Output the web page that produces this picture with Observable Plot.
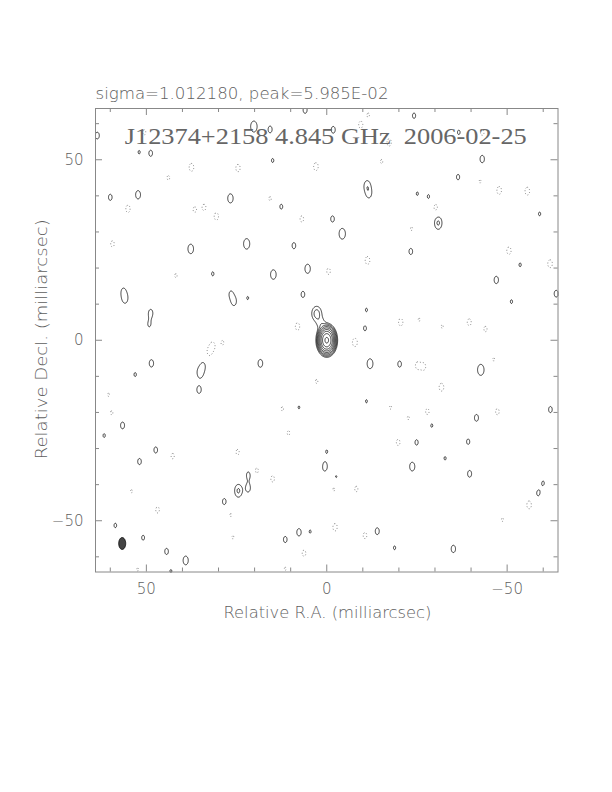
<!DOCTYPE html>
<html><head><meta charset="utf-8">
<script src="https://cdn.jsdelivr.net/npm/d3@7"></script>
<script src="https://cdn.jsdelivr.net/npm/@observablehq/plot@0.6"></script>
<style>body{margin:0;background:#fff}</style>
</head><body><div id="chart"></div>
<script>
const titleText = "sigma=1.012180, peak=5.985E-02";
const mapTitle = "J12374+2158 4.845 GHz  2006-02-25";
const xLabel = "Relative R.A. (milliarcsec)";
const yLabel = "Relative Decl. (milliarcsec)";
const majorTicks = [50, 0, -50];
const minorTicks = [60, 40, 30, 20, 10, -10, -20, -30, -40, -60];
const posLevels = [1, 2, 4, 8, 16, 32, 64, 128, 256];   // multiples of lowest contour
const negLevels = [1];                                   // -1 x lowest contour

// source components (RA mas, Dec mas, peak in lowest-contour units, FWHM RA, FWHM Dec)
const compRA  = [0.0, 2.8, 1.6];
const compDec = [0.0, 7.4, 4.6];
const compAmp = [300, 2.6, 1.5];
const compWx  = [2.1, 2.3, 2.2];
const compWy  = [3.3, 3.4, 3.0];

// restoring beam
const beamRA = 56.7, beamDec = -56.3, beamMin = 1.94, beamMaj = 3.3;

// noise peaks (positive -> solid contours, negative -> dotted contours)
const noiseRA = [
 63.6, 20.2, 15.7, -1.8, 6.0, 52.0, 48.8, 50.6, 15.0, 37.5,
 24.6, 3.0, 43.9, 60.0, 52.3, 55.1, 36.6, 34.0, 30.6, 26.7,
 15.7, 12.6, 6.9, -1.6, 59.4, 37.7, 22.2, 9.1, 5.3, -0.5,
 14.8, 41.8, 31.6, 55.9, 56.4, 26.6, 25.7, 21.9, 6.6, 48.8,
 49.2, 8.1, -24.2, -11.5, -9.4, -17.3, -36.6, -43.1, -43.1, -15.2,
 -11.2, -11.7, -36.4, -42.5, -47.8, -55.6, -25.1, -28.2, -30.2, -59.0,
 -30.9, -4.3, -23.5, -23.3, -50.5, -11.3, -53.6, -61.9, -47.0, -63.6,
 -51.2, -11.0, -10.6, -20.5, -25.6, -32.0, -39.5, -44.0, -7.8, -12.0,
 -20.2, -25.1, -26.9, -42.7, -46.3, -31.8, -11.0, -17.7, -22.6, -27.9,
 -41.5, -47.3, -62.0, -29.1, -19.8, -24.9, -39.2, -32.8, 0.6, -23.7,
 -39.6, -2.6, -2.0, -8.2, -60.0, -58.6, -56.1, -48.7, -2.3, -10.6,
 -14.0, -18.8, -35.1, 0.0, 31.6, 28.9, 32.6, 48.6, 53.1, 35.1,
 34.2, 35.4, 18.4, 60.5, 59.6, 56.6, 61.7, 2.8, 12.3, 7.7,
 10.6, 47.4, 42.7, 51.9, 24.7, 2.6, 21.7, 19.4, 15.0, 24.5,
 21.8, 54.1, 28.4, 46.9, 26.6, 58.6, 50.9, 44.4, 39.1, 43.2,
 52.4, 26.0, 11.5, 7.7, 4.6, 6.3, 11.5
];
const noiseDec = [
 56.7, 59.2, 58.4, 58.3, 63.8, 52.1, 51.8, 57.6, 49.8, 47.9,
 47.7, 48.1, 45.0, 39.6, 40.3, 36.4, 36.2, 36.8, 34.3, 39.3,
 39.2, 37.0, 33.6, 33.6, 26.7, 25.3, 26.7, 26.2, 19.8, 19.1,
 18.2, 17.9, 18.4, 11.5, 13.6, 12.9, 10.7, 11.7, 12.7, 7.6,
 4.3, 3.8, 62.2, 62.4, 59.7, 54.8, 57.6, 57.6, 50.2, 49.5,
 42.8, 40.6, 45.2, 44.0, 41.5, 41.3, 40.6, 39.8, 36.8, 35.0,
 32.5, 29.5, 30.9, 24.6, 24.8, 22.1, 20.9, 21.2, 16.7, 12.9,
 10.7, 8.4, 3.3, 5.0, 5.7, 3.8, 5.0, 3.1, -0.6, -6.5,
 -6.6, -7.0, -7.3, -8.2, -5.3, -13.0, -16.9, -18.6, -21.5, -19.8,
 -21.5, -19.8, -19.2, -23.6, -28.3, -28.3, -28.1, -32.7, -35.0, -35.0,
 -37.0, -37.9, -41.2, -41.2, -39.5, -42.4, -45.6, -49.7, -51.8, -54.1,
 -52.9, -57.5, -57.8, -30.8, -1.5, -0.7, -3.3, -6.4, -9.5, -9.0,
 -7.0, -13.7, -6.4, -15.1, -20.1, -23.6, -26.4, -11.4, -19.0, -18.6,
 -25.7, -30.4, -32.1, -33.6, -31.0, -34.5, -37.3, -36.1, -38.4, -41.7,
 -41.0, -41.8, -44.7, -47.0, -48.4, -51.3, -54.7, -58.5, -61.0, -64.0,
 -63.5, -54.6, -55.2, -53.2, -53.0, -59.0, -63.3
];
const noiseAmp = [
 1.25, 1.8, 1.25, 1.25, 1.25, 1.06, 1.2, -1.15, 1.08, -1.35,
 -1.3, -1.35, -1.1, 1.2, 1.4, -1.3, -1.15, -1.2, -1.3, 1.5,
 -1.08, 1.12, -1.2, 1.2, -1.2, 1.55, 1.7, 1.2, 1.5, -1.2,
 1.55, -1.08, 1.08, 1.4, 1.05, 1.06, 1.3, 1.05, 1.2, 1.25,
 1.06, -1.3, 1.15, -1.08, -1.25, -1.3, 1.1, -1.2, 1.3, -1.08,
 1.6, 1.3, 1.15, -1.05, -1.35, -1.35, 1.06, 1.08, -1.2, 1.07,
 2.2, 1.75, -1.06, 1.2, -1.3, -1.35, 1.07, -1.35, 1.3, 1.25,
 1.07, 1.06, 1.12, -1.3, -1.05, -1.06, -1.25, -1.15, -1.4, 1.6,
 1.2, -1.2, -1.2, 1.8, -1.05, -1.35, 1.05, -1.06, -1.06, -1.2,
 1.25, -1.2, 1.2, 1.07, -1.2, 1.15, 1.15, 1.06, 1.5, 1.45,
 1.25, 1.07, -1.1, -1.15, 1.05, 1.12, -1.35, -1.06, -1.3, -1.2,
 1.25, 1.07, 1.3, 1.04, -1.2, -1.1, -1.15, 1.3, 1.08, 1.6,
 1.06, 1.3, 1.35, -1.05, -1.08, 1.25, 1.07, -1.08, -1.08, 1.04,
 -1.1, 1.2, -1.15, 1.2, -1.15, -1.05, 1.2, -1.15, -1.2, 2.2,
 1.3, -1.05, 1.2, -1.2, -1.05, 1.1, 1.12, 1.2, 1.45, 1.06,
 -1.05, -1.05, 1.2, 1.3, 1.05, -1.2, -1.05
];

// ---------- layout ----------
const W = 612, H = 792, ML = 95, MR = 54.5, MT = 108, MB = 220.5;
const FW = W - ML - MR, FH = H - MT - MB;
const XD = [64.1, -64.1], YD = [-64.2, 64.2];

// ---------- brightness grid built from the components ----------
const N = 800;
const gx0 = -64.1, gx1 = 64.1, gy0 = -64.2, gy1 = 64.2;
const dxg = (gx1 - gx0) / N, dyg = (gy1 - gy0) / N;
const K = 4 * Math.LN2;
function addGauss(grid, ra, dec, amp, wx, wy, reach) {
  const R = reach * Math.max(wx, wy);
  const c0 = Math.max(0, Math.floor((ra - R - gx0) / dxg));
  const c1 = Math.min(N - 1, Math.ceil((ra + R - gx0) / dxg));
  const r0 = Math.max(0, Math.floor((dec - R - gy0) / dyg));
  const r1 = Math.min(N - 1, Math.ceil((dec + R - gy0) / dyg));
  for (let r = r0; r <= r1; r++) {
    const y = gy0 + (r + 0.5) * dyg, ty = (y - dec) / wy;
    for (let c = c0; c <= c1; c++) {
      const x = gx0 + (c + 0.5) * dxg, tx = (x - ra) / wx;
      grid[r * N + c] += amp * Math.exp(-K * (tx * tx + ty * ty));
    }
  }
}
const field = new Float64Array(N * N);
for (let i = 0; i < compRA.length; i++) addGauss(field, compRA[i], compDec[i], compAmp[i], compWx[i], compWy[i], 2.4);
for (let i = 0; i < noiseRA.length; i++) addGauss(field, noiseRA[i], noiseDec[i], noiseAmp[i], beamMin, beamMaj, 2.0);
const pos = Array.from(field);
const neg = pos.map(v => -v);
const beamGrid = new Float64Array(N * N);
addGauss(beamGrid, beamRA, beamDec, 1, beamMin, beamMaj, 1.5);
const beam = Array.from(beamGrid);

const gridOpts = {width: N, height: N, x1: gx0, x2: gx1, y1: gy0, y2: gy1, value: d => d};
const minus = d => (d < 0 ? "\u2212" : "") + Math.abs(d);
const grey = "#888";
const textGrey = "#5e5e5e";
const sans = "DejaVu Sans, sans-serif";

const chart = Plot.plot({
  width: W, height: H,
  marginLeft: ML, marginRight: MR, marginTop: MT, marginBottom: MB,
  x: {domain: XD},
  y: {domain: YD},
  style: {background: "white", fontFamily: sans},
  marks: [
    Plot.contour(beam, {...gridOpts, thresholds: [0.5], fill: "#444", stroke: "black", strokeWidth: 0.8}),
    Plot.contour(neg, {...gridOpts, thresholds: negLevels, fill: "none", stroke: "#666", strokeWidth: 0.8, strokeDasharray: "1,2"}),
    Plot.contour(pos, {...gridOpts, thresholds: posLevels, fill: "none", stroke: "black", strokeWidth: 0.75}),
    Plot.frame({stroke: grey}),
    Plot.tickX(majorTicks, {x: d => d, insetTop: FH - 7, stroke: grey}),
    Plot.tickX(majorTicks, {x: d => d, insetBottom: FH - 7, stroke: grey}),
    Plot.tickX(minorTicks, {x: d => d, insetTop: FH - 4, stroke: grey}),
    Plot.tickX(minorTicks, {x: d => d, insetBottom: FH - 4, stroke: grey}),
    Plot.tickY(majorTicks, {y: d => d, insetRight: FW - 7, stroke: grey}),
    Plot.tickY(majorTicks, {y: d => d, insetLeft: FW - 7, stroke: grey}),
    Plot.tickY(minorTicks, {y: d => d, insetRight: FW - 4, stroke: grey}),
    Plot.tickY(minorTicks, {y: d => d, insetLeft: FW - 4, stroke: grey}),
    Plot.axisX({ticks: majorTicks, anchor: "bottom", tickSize: 0, tickPadding: 11, fontSize: 15, fontWeight: 300, tickFormat: minus, label: null, color: textGrey}),
    Plot.axisY({ticks: majorTicks, anchor: "left", tickSize: 0, tickPadding: 12, fontSize: 15, fontWeight: 300, tickFormat: minus, label: null, color: textGrey}),
    Plot.text([titleText], {text: d => d, frameAnchor: "top-left", dx: 0, dy: -15, textAnchor: "start", lineAnchor: "middle", fontSize: 16, fontWeight: 300, fill: textGrey}),
    Plot.text([mapTitle], {text: d => d, frameAnchor: "top", dx: -1, dy: 28.3, textAnchor: "middle", lineAnchor: "middle", fontSize: 24, fontFamily: "Liberation Serif, serif", fill: "#666"}),
    Plot.text([xLabel], {text: d => d, frameAnchor: "bottom", dx: 0.7, dy: 40.7, textAnchor: "middle", lineAnchor: "middle", fontSize: 15, fontWeight: 300, fill: textGrey}),
    Plot.text([yLabel], {text: d => d, frameAnchor: "left", dx: -53, dy: -1, rotate: -90, textAnchor: "middle", lineAnchor: "middle", fontSize: 15, fontWeight: 300, fill: textGrey})
  ]
});
document.getElementById("chart").appendChild(chart);

// stretch the long labels to the reference widths
const lengths = new Map([[titleText, 293], [mapTitle, 402], [xLabel, 208], [yLabel, 240]]);
chart.querySelectorAll("text").forEach(t => {
  const s = t.textContent;
  if (lengths.has(s)) {
    t.setAttribute("textLength", lengths.get(s));
    t.setAttribute("lengthAdjust", "spacingAndGlyphs");
    t.style.whiteSpace = "pre";
  }
});
</script></body></html>
